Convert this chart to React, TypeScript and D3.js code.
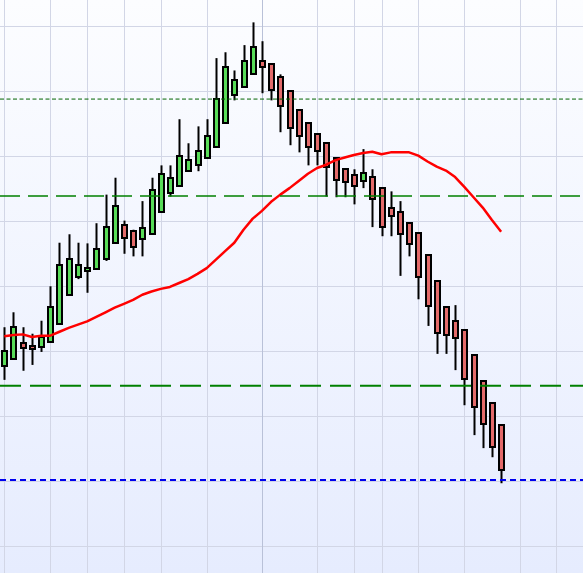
import * as d3 from 'd3';

// weekly candles, oldest first
const OPEN = [
  127.7, 128.8, 131.3, 130.8, 130.6, 131.5, 134.2, 138.6, 141.4, 142.3,
  142.6, 144.2, 146.6, 149.4, 148.5, 147.2, 148.0, 151.4, 154.3, 155.4,
  157.7, 158.6, 159.7, 161.4, 165.1, 169.4, 170.6, 172.6, 174.6, 174.2,
  172.2, 170.0, 167.1, 165.1, 163.4, 162.0, 159.8, 158.0, 157.1, 156.2,
  156.8, 155.1, 152.0, 151.4, 149.7, 148.2, 144.8, 140.8, 136.8, 134.6,
  133.2, 129.4, 125.4, 122.0, 118.6,
];
const HIGH = [
  133.7, 136.0, 133.7, 132.7, 134.7, 140.0, 146.7, 148.0, 146.7, 146.6,
  149.7, 154.1, 156.7, 150.1, 148.7, 153.1, 156.7, 158.6, 158.6, 165.7,
  162.0, 164.6, 165.7, 175.1, 176.0, 173.2, 177.1, 180.6, 177.7, 174.2,
  172.6, 170.0, 167.1, 165.1, 163.4, 162.0, 159.8, 158.0, 158.0, 161.1,
  158.0, 155.1, 154.6, 153.1, 149.7, 148.2, 144.8, 140.8, 136.8, 137.1,
  133.2, 129.4, 125.4, 122.0, 118.6,
];
const LOW = [
  125.6, 128.7, 127.0, 127.9, 129.9, 131.5, 134.1, 138.6, 141.1, 139.0,
  142.6, 143.9, 146.6, 145.0, 144.6, 144.6, 147.9, 151.3, 153.8, 155.3,
  157.6, 157.7, 159.6, 161.3, 165.0, 168.6, 170.6, 172.6, 169.7, 168.6,
  163.7, 161.7, 160.6, 158.6, 158.6, 153.8, 153.7, 153.7, 152.6, 155.1,
  149.1, 147.7, 147.7, 141.6, 144.6, 138.0, 133.9, 129.6, 129.6, 127.1,
  121.7, 117.1, 115.1, 113.7, 109.7,
];
const CLOSE = [
  130.0, 133.7, 130.5, 130.3, 132.2, 136.8, 143.2, 144.2, 143.2, 142.8,
  145.8, 149.1, 152.3, 147.5, 146.0, 148.9, 154.8, 157.2, 156.6, 160.0,
  159.5, 160.8, 163.1, 168.8, 173.7, 171.7, 174.6, 176.8, 173.7, 170.2,
  167.7, 164.3, 163.1, 161.5, 160.8, 158.3, 156.3, 156.0, 155.4, 157.4,
  153.4, 149.1, 150.8, 148.0, 146.5, 141.5, 136.9, 132.8, 132.5, 132.0,
  125.7, 121.4, 118.8, 115.2, 111.8,
];
const MOVING_AVG = [
  132.3, 132.5, 132.6, 132.2, 132.4, 132.4, 133.0, 133.6, 134.1, 134.6,
  135.3, 136.0, 136.7, 137.3, 137.9, 138.7, 139.2, 139.6, 139.9, 140.5,
  141.1, 141.9, 142.8, 144.1, 145.4, 146.7, 148.7, 150.4, 151.6, 153.0,
  154.1, 155.1, 156.2, 157.3, 158.2, 158.7, 159.4, 159.8, 160.2, 160.5,
  160.7, 160.3, 160.6, 160.6, 160.6, 160.1, 159.2, 158.4, 157.8, 156.8,
  155.3, 153.7, 152.1, 150.2, 148.4,
];

const PRICE_TICKS = [100, 110, 120, 130, 140, 150, 160, 170, 180];
// candle index of each period boundary; the 28th is the year boundary
const GRID_INDEX = [0, 5, 9, 13, 17, 22, 28, 34, 38, 41, 45, 50, 56, 60];
const YEAR_INDEX = 28;

const LEVEL_PRICE = [168.8, 153.9, 124.7, 110.2];
const LEVEL_STYLE = [
  { color: '#006400', width: 1, dash: '4,2.5' },
  { color: '#008000', width: 1.5, dash: '20,8' },
  { color: '#008000', width: 2.2, dash: '21,9' },
  { color: '#0000ee', width: 2, dash: '6,4' },
];

const W = 583;
const H = 573;

export default function App() {
  const x = d3.scaleLinear().domain([-0.467, 62.9]).range([0, W]);
  const y = d3.scaleLinear().domain([95.89, 184.04]).range([H, 0]);
  const bodyW = 5;

  const maLine = d3
    .line<number>()
    .x((_, i) => x(i))
    .y((d) => y(d));

  return (
    <>
      <style>{'body{margin:0}'}</style>
      <svg width={W} height={H} style={{ display: 'block' }}>
        <defs>
          <linearGradient id="bg" x1="0" y1="0" x2="0" y2="1">
            <stop offset="0" stopColor="#fcfdff" />
            <stop offset="1" stopColor="#e6ecfe" />
          </linearGradient>
        </defs>
        <rect width={W} height={H} fill="url(#bg)" />

        {/* grid */}
        {PRICE_TICKS.map((p) => (
          <line key={'h' + p} x1={0} x2={W} y1={Math.round(y(p)) + 0.5} y2={Math.round(y(p)) + 0.5}
            stroke="#d2d6e6" strokeWidth={1} />
        ))}
        {GRID_INDEX.map((i) => (
          <line key={'v' + i} x1={Math.round(x(i)) + 0.5} x2={Math.round(x(i)) + 0.5} y1={0} y2={H}
            stroke={i === YEAR_INDEX ? '#b9c1d8' : '#d2d6e6'} strokeWidth={1} />
        ))}

        {/* candles */}
        {OPEN.map((o, i) => {
          const c = CLOSE[i];
          const up = c >= o;
          const cx = Math.round(x(i)) + 0.5;
          const top = Math.round(y(Math.max(o, c)));
          const bot = Math.round(y(Math.min(o, c)));
          return (
            <g key={i}>
              <line x1={cx} x2={cx} y1={y(HIGH[i])} y2={y(LOW[i])} stroke="#000" strokeWidth={2} />
              <rect x={cx - bodyW / 2} y={top} width={bodyW} height={Math.max(bot - top, 2)}
                fill={up ? '#58dc58' : '#e36a6a'} stroke="#000" strokeWidth={2} />
            </g>
          );
        })}

        {/* moving average */}
        <path d={maLine(MOVING_AVG) ?? ''} fill="none" stroke="#ff0000" strokeWidth={2.5}
          strokeLinejoin="round" />

        {/* levels */}
        {LEVEL_PRICE.map((p, i) => (
          <line key={'l' + i} x1={0} x2={W} y1={y(p)} y2={y(p)}
            stroke={LEVEL_STYLE[i].color} strokeWidth={LEVEL_STYLE[i].width}
            strokeDasharray={LEVEL_STYLE[i].dash} />
        ))}
      </svg>
    </>
  );
}
